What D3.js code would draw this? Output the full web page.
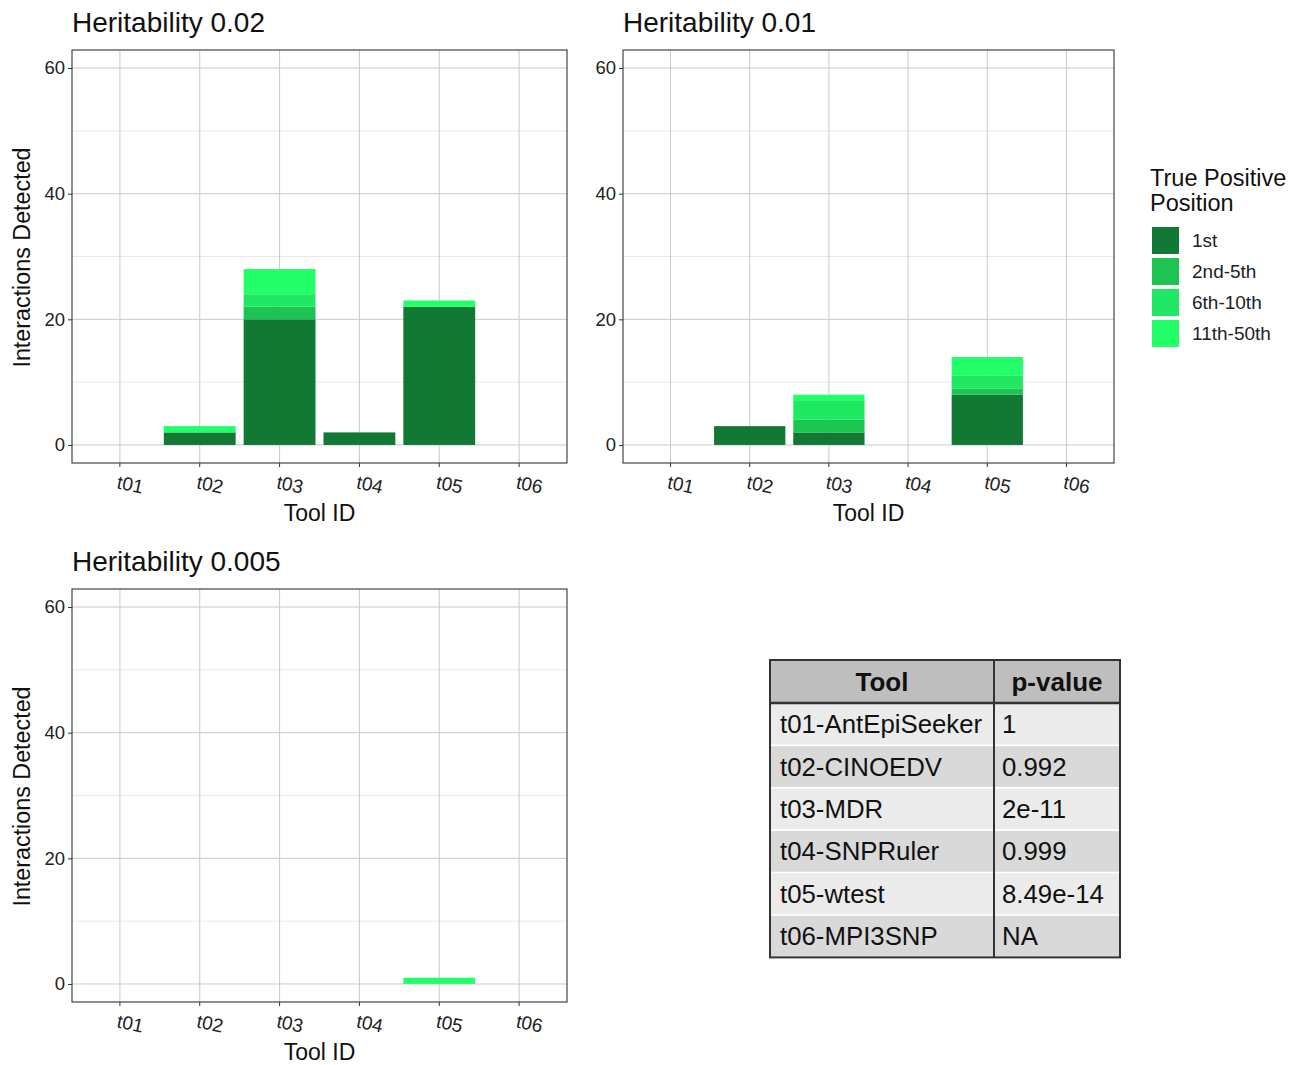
<!DOCTYPE html>
<html>
<head>
<meta charset="utf-8">
<script src="https://cdn.jsdelivr.net/npm/d3@7"></script>
<style>
  body { margin: 0; background: #fff; }
  svg { font-family: "Liberation Sans", Arial, Helvetica, sans-serif; }
</style>
</head>
<body>
<svg id="chart" width="1303" height="1065"></svg>
<script>
// tools along the x axis
const tools = ['t01', 't02', 't03', 't04', 't05', 't06'];
const positions = ['1st', '2nd-5th', '6th-10th', '11th-50th'];
const posColors = ['#117934', '#1dc452', '#20e862', '#23ff68'];

// heritability 0.02
const h002_1st = [0, 2, 20, 2, 22, 0];
const h002_2to5 = [0, 0, 2, 0, 0, 0];
const h002_6to10 = [0, 0, 2, 0, 0, 0];
const h002_11to50 = [0, 1, 4, 0, 1, 0];

// heritability 0.01
const h001_1st = [0, 3, 2, 0, 8, 0];
const h001_2to5 = [0, 0, 2, 0, 1, 0];
const h001_6to10 = [0, 0, 3, 0, 2, 0];
const h001_11to50 = [0, 0, 1, 0, 3, 0];

// heritability 0.005
const h0005_1st = [0, 0, 0, 0, 0, 0];
const h0005_2to5 = [0, 0, 0, 0, 0, 0];
const h0005_6to10 = [0, 0, 0, 0, 0, 0];
const h0005_11to50 = [0, 0, 0, 0, 1, 0];

const yTicks = [0, 20, 40, 60];
const yMinor = [10, 30, 50];

// summary table
const tableHeader = ['Tool', 'p-value'];
const tableTools = ['t01-AntEpiSeeker', 't02-CINOEDV', 't03-MDR', 't04-SNPRuler', 't05-wtest', 't06-MPI3SNP'];
const tablePvals = ['1', '0.992', '2e-11', '0.999', '8.49e-14', 'NA'];

const svg = d3.select('#chart');

function rows(a, b, c, d) {
  return tools.map((t, i) => ({ tool: t, '1st': a[i], '2nd-5th': b[i], '6th-10th': c[i], '11th-50th': d[i] }));
}

const panels = [
  { title: 'Heritability 0.02', x: 72, y: 50, w: 495, h: 413, ytitle: true, data: rows(h002_1st, h002_2to5, h002_6to10, h002_11to50) },
  { title: 'Heritability 0.01', x: 623, y: 50, w: 491, h: 413, ytitle: false, data: rows(h001_1st, h001_2to5, h001_6to10, h001_11to50) },
  { title: 'Heritability 0.005', x: 72, y: 589, w: 495, h: 413, ytitle: true, data: rows(h0005_1st, h0005_2to5, h0005_6to10, h0005_11to50) }
];

const color = d3.scaleOrdinal().domain(positions).range(posColors);

panels.forEach(p => {
  const g = svg.append('g').attr('transform', `translate(${p.x},${p.y})`);

  const x = d3.scaleBand().domain(tools).range([0, p.w]).paddingInner(0.1).paddingOuter(0.15);
  const y = d3.scaleLinear().domain([-2.87, 62.87]).range([p.h, 0]);

  // grid
  g.selectAll('.minor').data(yMinor).join('line')
    .attr('x1', 0).attr('x2', p.w)
    .attr('y1', d => y(d)).attr('y2', d => y(d))
    .attr('stroke', '#e2e2e2').attr('stroke-width', 0.8);
  g.selectAll('.major').data(yTicks).join('line')
    .attr('x1', 0).attr('x2', p.w)
    .attr('y1', d => y(d)).attr('y2', d => y(d))
    .attr('stroke', '#cacaca').attr('stroke-width', 1);
  g.selectAll('.vgrid').data(tools).join('line')
    .attr('x1', d => x(d) + x.bandwidth() / 2).attr('x2', d => x(d) + x.bandwidth() / 2)
    .attr('y1', 0).attr('y2', p.h)
    .attr('stroke', '#cacaca').attr('stroke-width', 1);

  // stacked bars
  const series = d3.stack().keys(positions)(p.data);
  g.append('g').selectAll('g').data(series).join('g')
    .attr('fill', d => color(d.key))
    .selectAll('rect').data(d => d).join('rect')
    .attr('x', d => x(d.data.tool))
    .attr('width', x.bandwidth())
    .attr('y', d => y(d[1]))
    .attr('height', d => y(d[0]) - y(d[1]));

  // border
  g.append('rect').attr('width', p.w).attr('height', p.h)
    .attr('fill', 'none').attr('stroke', '#333').attr('stroke-width', 1.1);

  // y axis
  const ya = g.append('g').call(d3.axisLeft(y).tickValues(yTicks).tickSize(4).tickPadding(3));
  ya.select('.domain').remove();
  ya.selectAll('line').attr('stroke', '#333');
  ya.selectAll('text').attr('font-size', 18.5).attr('fill', '#222').attr('font-family', null);

  // x axis
  const xa = g.append('g').attr('transform', `translate(0,${p.h})`)
    .call(d3.axisBottom(x).tickSize(4).tickPadding(0));
  xa.select('.domain').remove();
  xa.selectAll('line').attr('stroke', '#333');
  xa.selectAll('text')
    .attr('font-size', 19).attr('fill', '#222').attr('font-family', null)
    .attr('dy', null).attr('y', 0)
    .attr('text-anchor', 'middle')
    .attr('transform', 'translate(9,28) rotate(12)');

  g.append('text').attr('x', p.w / 2).attr('y', p.h + 58)
    .attr('text-anchor', 'middle').attr('font-size', 23).attr('fill', '#111')
    .text('Tool ID');

  g.append('text').attr('x', 0).attr('y', -18)
    .attr('font-size', 28).attr('fill', '#111')
    .text(p.title);

  if (p.ytitle) {
    g.append('text')
      .attr('transform', `translate(${-42},${p.h / 2 + 1}) rotate(-90)`)
      .attr('text-anchor', 'middle').attr('font-size', 23.3).attr('fill', '#111')
      .text('Interactions Detected');
  }
});

// legend
const lg = svg.append('g').attr('transform', 'translate(1150,0)');
lg.append('text').attr('x', 0).attr('y', 186).attr('font-size', 23.5).attr('fill', '#111').text('True Positive');
lg.append('text').attr('x', 0).attr('y', 211).attr('font-size', 23.5).attr('fill', '#111').text('Position');
const keys = lg.selectAll('.key').data(positions).join('g')
  .attr('transform', (d, i) => `translate(2,${227 + i * 31})`);
keys.append('rect').attr('width', 27).attr('height', 27).attr('fill', d => color(d));
keys.append('text').attr('x', 40).attr('y', 20).attr('font-size', 19).attr('fill', '#222').text(d => d);

// table
const tx = 770, ty = 660, col1 = 224, col2 = 126, headH = 43, rowH = 42.4;
const tg = svg.append('g').attr('transform', `translate(${tx},${ty})`);
tg.append('rect').attr('width', col1 + col2).attr('height', headH).attr('fill', '#bebebe');
tableTools.forEach((t, i) => {
  tg.append('rect').attr('x', 0).attr('y', headH + i * rowH)
    .attr('width', col1 + col2).attr('height', rowH)
    .attr('fill', i % 2 === 0 ? '#ebebeb' : '#d9d9d9')
    .attr('stroke', '#fff').attr('stroke-width', 1.5);
  tg.append('text').attr('x', 10).attr('y', headH + i * rowH + rowH / 2 + 9)
    .attr('font-size', 25.8).attr('fill', '#111').text(t);
  tg.append('text').attr('x', col1 + 8).attr('y', headH + i * rowH + rowH / 2 + 9)
    .attr('font-size', 25.8).attr('fill', '#111').text(tablePvals[i]);
});
tg.selectAll('.hd').data(tableHeader).join('text')
  .attr('x', (d, i) => i === 0 ? col1 / 2 : col1 + col2 / 2)
  .attr('y', headH / 2 + 9)
  .attr('text-anchor', 'middle').attr('font-size', 26).attr('font-weight', 'bold').attr('fill', '#111')
  .text(d => d);
const totalH = headH + rowH * tableTools.length;
tg.append('line').attr('x1', 0).attr('x2', col1 + col2).attr('y1', headH).attr('y2', headH)
  .attr('stroke', '#333').attr('stroke-width', 2.5);
tg.append('line').attr('x1', col1).attr('x2', col1).attr('y1', 0).attr('y2', totalH)
  .attr('stroke', '#333').attr('stroke-width', 2);
tg.append('rect').attr('width', col1 + col2).attr('height', totalH)
  .attr('fill', 'none').attr('stroke', '#333').attr('stroke-width', 2);
</script>
</body>
</html>
